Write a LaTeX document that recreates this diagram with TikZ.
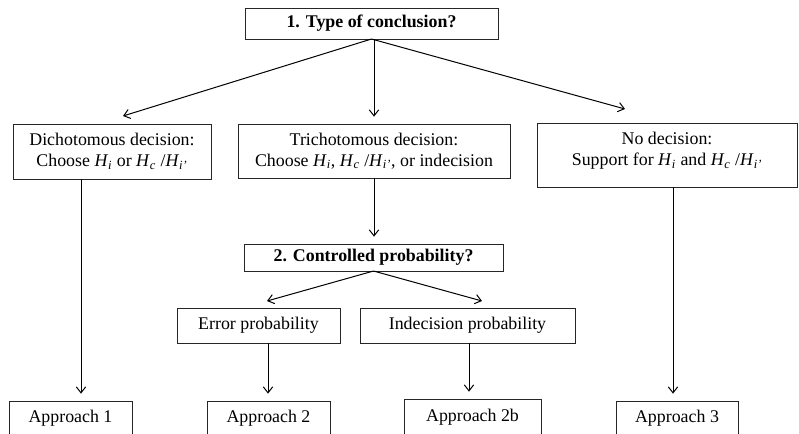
\documentclass[tikz,border=0pt]{standalone}
\usepackage{fontspec}
\setmainfont{Liberation Serif}
\usetikzlibrary{arrows.meta}
\newcommand{\Hsb}[1]{\textit{H}\textsubscript{\textit{#1}}}
\begin{document}
\begin{tikzpicture}[x=0.75pt,y=-0.75pt,
  box/.style={draw=black!85,line width=0.75pt,rectangle,inner sep=0pt,outer sep=0pt,align=center,
    font=\fontsize{13.4pt}{15.5pt}\selectfont},
  arr/.style={line width=0.75pt,-{Straight Barb[length=4.5pt,width=7pt,line width=0.75pt]},shorten >=5.5pt}]
\clip (0,0) rectangle (799,433);
\fill[white] (0,0) rectangle (799,433);
% nodes
\node[box,minimum width=189.75pt,minimum height=23.25pt,font=\fontsize{13.4pt}{15.5pt}\selectfont\bfseries] (top) at (371.5,23.5) {1. Type of conclusion?};
\node[box,minimum width=148.5pt,minimum height=41.25pt] (dich) at (112,151.5) {Dichotomous decision:\\Choose \Hsb{i} or \Hsb{c} /\Hsb{i'}};
\node[box,minimum width=204pt,minimum height=40.5pt] (trich) at (374,151) {Trichotomous decision:\\Choose \Hsb{i}, \Hsb{c} /\Hsb{i'}, or indecision};
\node[box,minimum width=195pt,minimum height=48pt] (nodec) at (667,155) {No decision:\\Support for \Hsb{i} and \Hsb{c} /\Hsb{i'}\\[-6pt]\mbox{}};
\node[box,minimum width=194.25pt,minimum height=20.25pt,font=\fontsize{13.4pt}{15.5pt}\selectfont\bfseries] (ctrl) at (373.5,257.5) {2. Controlled probability?};
\node[box,minimum width=122.25pt,minimum height=26.25pt] (err) at (258.5,325.5) {Error probability};
\node[box,minimum width=161.25pt,minimum height=26.25pt] (indec) at (467.5,325.5) {Indecision probability};
\node[box,minimum width=92.25pt,minimum height=25.5pt] (app1) at (70.5,418) {Approach 1};
\node[box,minimum width=92.25pt,minimum height=25.5pt] (app2) at (268.5,418) {Approach 2};
\node[box,minimum width=102.75pt,minimum height=27pt] (app2b) at (472.5,417) {Approach 2b};
\node[box,minimum width=91.5pt,minimum height=25.5pt] (app3) at (677,418) {Approach 3};
% coordinates
\coordinate (tipA) at (123,116);
\coordinate (tipC) at (625,109);
\coordinate (tipE) at (267,301);
\coordinate (tipI) at (482,301);
\coordinate (x1) at (81,0);
\coordinate (x2) at (268,0);
\coordinate (x2b) at (469,0);
\coordinate (x3) at (673,0);
% connectors
\draw[arr,shorten >=0pt] (top.south) -- (tipA);
\draw[arr,shorten >=0pt] (top.south) -- (tipC);
\draw[arr] (top.south -| trich.north) -- (trich.north);
\draw[arr] (dich.south -| x1) -- (app1.north -| x1);
\draw[arr] (trich.south) -- (ctrl.north -| trich.south);
\draw[arr,shorten >=0pt] (ctrl.south) -- (tipE);
\draw[arr,shorten >=0pt] (ctrl.south) -- (tipI);
\draw[arr] (err.south -| x2) -- (app2.north -| x2);
\draw[arr] (indec.south -| x2b) -- (app2b.north -| x2b);
\draw[arr] (nodec.south -| x3) -- (app3.north -| x3);
\end{tikzpicture}
\end{document}
